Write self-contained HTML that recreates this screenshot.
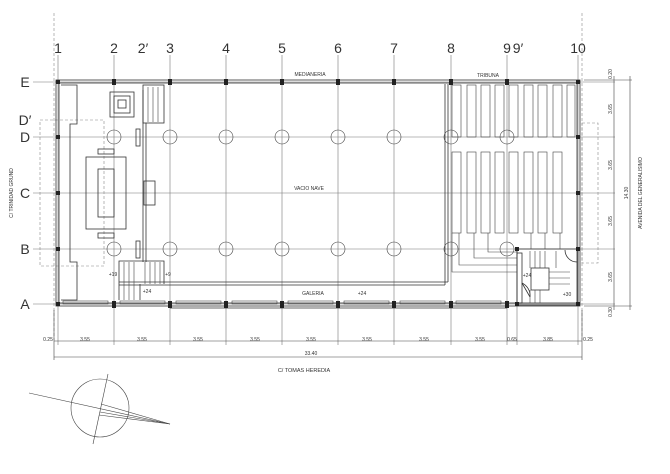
<!DOCTYPE html>
<html><head><meta charset="utf-8"><style>
html,body{margin:0;padding:0;background:#fff;}
svg{display:block;}
text{font-family:"Liberation Sans",sans-serif;fill:#333;}
</style></head><body>
<svg width="670" height="474" viewBox="0 0 670 474" xmlns="http://www.w3.org/2000/svg">
<g stroke="#777" stroke-width="0.6" fill="none">
<!-- grid lines vertical -->
<line x1="58" y1="55" x2="58" y2="345"/>
<line x1="114" y1="55" x2="114" y2="345"/>
<line x1="170" y1="55" x2="170" y2="345"/>
<line x1="226" y1="55" x2="226" y2="345"/>
<line x1="282" y1="55" x2="282" y2="345"/>
<line x1="338" y1="55" x2="338" y2="345"/>
<line x1="394" y1="55" x2="394" y2="345"/>
<line x1="451" y1="55" x2="451" y2="345"/>
<line x1="507" y1="55" x2="507" y2="345"/>
<line x1="517" y1="250" x2="517" y2="345"/>
<line x1="578" y1="55" x2="578" y2="345"/>
<!-- horizontal grid -->
<line x1="33" y1="82" x2="615" y2="82"/>
<line x1="33" y1="137" x2="615" y2="137"/>
<line x1="33" y1="193" x2="615" y2="193"/>
<line x1="33" y1="249" x2="615" y2="249"/>
<line x1="33" y1="304" x2="615" y2="304"/>
</g>
<g stroke="#888" stroke-width="0.6" fill="none" stroke-dasharray="3,2">
<line x1="54" y1="13" x2="54" y2="340"/>
<line x1="582" y1="13" x2="582" y2="340"/>
<rect x="40" y="120" width="64" height="146"/>
<rect x="582" y="123" width="16" height="140"/>
</g>
<!-- walls -->
<g stroke="#333" stroke-width="0.8" fill="none">
<rect x="56" y="80" width="524" height="226"/>
<rect x="59" y="83" width="518" height="220"/>
<line x1="445" y1="84" x2="445" y2="285"/>
<line x1="448" y1="84" x2="448" y2="282"/>
<line x1="119" y1="285" x2="445" y2="285"/>
<line x1="119" y1="282" x2="448" y2="282"/>
<line x1="170" y1="308" x2="507" y2="308"/>
<!-- left bench -->
<path d="M61 85 H77 V124 H70 V262 H77 V300 H61"/>
<!-- square -->
<rect x="110" y="92" width="24" height="25"/>
<rect x="114" y="96" width="16" height="17"/>
<rect x="118" y="100" width="8" height="8"/>
<!-- steps top 2' -->
<rect x="143" y="85" width="21" height="38"/>
<line x1="143" y1="90" x2="143" y2="262"/>
<line x1="146" y1="123" x2="146" y2="262"/>
<rect x="136" y="129" width="4" height="17"/>
<rect x="136" y="241" width="4" height="17"/>
<rect x="86" y="157" width="40" height="72"/>
<rect x="98" y="169" width="16" height="48"/>
<rect x="98" y="149" width="16" height="5"/>
<rect x="98" y="233" width="16" height="5"/>
<rect x="144" y="181" width="11" height="24"/>
<!-- stairs bottom left -->
<path d="M119 300 V261 H164 V284"/>
<path d="M140 284 V300"/>
<!-- stair box bottom right -->
<rect x="517" y="249" width="61" height="56"/>
<rect x="517" y="253" width="5" height="50"/>
<rect x="531" y="268" width="18" height="22"/>
<line x1="522" y1="283" x2="530" y2="297"/>
<path d="M565 250 A12 12 0 0 0 577 262"/>
<path d="M522 283 A14 14 0 0 1 530 297"/>
</g>
<g stroke="#444" stroke-width="0.6" fill="none">
<!-- step lines -->
<line x1="148" y1="87" x2="148" y2="122"/><line x1="153" y1="87" x2="153" y2="122"/><line x1="158" y1="87" x2="158" y2="122"/>
<line x1="124" y1="262" x2="124" y2="300"/><line x1="129" y1="262" x2="129" y2="300"/><line x1="134" y1="262" x2="134" y2="300"/>
<line x1="145" y1="262" x2="145" y2="284"/><line x1="150" y1="262" x2="150" y2="284"/><line x1="155" y1="262" x2="155" y2="284"/><line x1="160" y1="262" x2="160" y2="284"/>
<line x1="530" y1="251" x2="530" y2="268"/><line x1="535" y1="251" x2="535" y2="268"/><line x1="540" y1="251" x2="540" y2="268"/><line x1="545" y1="251" x2="545" y2="268"/><line x1="556" y1="251" x2="556" y2="268"/>
<line x1="549" y1="272" x2="570" y2="272"/><line x1="549" y1="278" x2="570" y2="278"/><line x1="549" y1="284" x2="570" y2="284"/>
<line x1="530" y1="290" x2="530" y2="303"/><line x1="535" y1="290" x2="535" y2="303"/><line x1="540" y1="290" x2="540" y2="303"/>
<!-- windows bottom wall -->
<rect x="63" y="301" width="45" height="3"/>
<rect x="120" y="301" width="45" height="3"/>
<rect x="176" y="301" width="45" height="3"/>
<rect x="232" y="301" width="45" height="3"/>
<rect x="288" y="301" width="45" height="3"/>
<rect x="344" y="301" width="45" height="3"/>
<rect x="400" y="301" width="45" height="3"/>
<rect x="456" y="301" width="45" height="3"/>
<!-- benches -->
<g>
<rect x="452" y="85" width="9" height="52"/><rect x="467" y="85" width="9" height="52"/><rect x="481" y="85" width="9" height="52"/><rect x="495" y="85" width="9" height="52"/><rect x="509" y="85" width="9" height="52"/><rect x="524" y="85" width="9" height="52"/><rect x="538" y="85" width="9" height="52"/><rect x="553" y="85" width="9" height="52"/><rect x="567" y="85" width="8" height="52"/>
<rect x="452" y="152" width="9" height="81"/><rect x="467" y="152" width="9" height="81"/><rect x="481" y="152" width="9" height="81"/><rect x="495" y="152" width="9" height="81"/><rect x="509" y="152" width="9" height="81"/><rect x="524" y="152" width="9" height="81"/><rect x="538" y="152" width="9" height="81"/><rect x="553" y="152" width="9" height="81"/>
</g>
<path d="M452 233 V272 H517"/>
<path d="M459 233 V265 H517"/>
<path d="M474 233 V258 H517"/>
<path d="M488 233 V252 H517"/>
<line x1="531" y1="233" x2="531" y2="249"/>
<line x1="545" y1="233" x2="545" y2="249"/>
<line x1="560" y1="233" x2="560" y2="249"/>
<!-- circles -->
<circle cx="114" cy="137" r="7"/><circle cx="170" cy="137" r="7"/><circle cx="226" cy="137" r="7"/><circle cx="282" cy="137" r="7"/><circle cx="338" cy="137" r="7"/><circle cx="394" cy="137" r="7"/><circle cx="451" cy="137" r="7"/><circle cx="507" cy="137" r="7"/>
<circle cx="114" cy="249" r="7"/><circle cx="170" cy="249" r="7"/><circle cx="226" cy="249" r="7"/><circle cx="282" cy="249" r="7"/><circle cx="338" cy="249" r="7"/><circle cx="394" cy="249" r="7"/><circle cx="451" cy="249" r="7"/><circle cx="507" cy="249" r="7"/>
<!-- dimension lines -->
<line x1="54" y1="341" x2="582" y2="341"/>
<line x1="54" y1="357" x2="582" y2="357"/>
<line x1="54" y1="310" x2="54" y2="360"/>
<line x1="582" y1="310" x2="582" y2="360"/>
<line x1="584" y1="80" x2="632" y2="80"/>
<line x1="584" y1="306" x2="632" y2="306"/>
<line x1="614" y1="76" x2="614" y2="310"/>
<line x1="630" y1="76" x2="630" y2="310"/>
<!-- compass -->
<circle cx="100" cy="408" r="29"/>
<line x1="29" y1="393" x2="170" y2="424"/>
<line x1="108" y1="374" x2="93" y2="444"/>
<line x1="101" y1="404" x2="170" y2="424"/>
<line x1="100" y1="412" x2="170" y2="424"/>
<line x1="99" y1="415" x2="170" y2="424"/>
</g>
<!-- column marks -->
<g fill="#222">
<rect x="56" y="80" width="4" height="4"/><rect x="112" y="79" width="4" height="6"/><rect x="168" y="79" width="4" height="6"/><rect x="224" y="79" width="4" height="6"/><rect x="280" y="79" width="4" height="6"/><rect x="336" y="79" width="4" height="6"/><rect x="392" y="79" width="4" height="6"/><rect x="449" y="79" width="4" height="6"/><rect x="505" y="79" width="4" height="6"/><rect x="576" y="80" width="4" height="4"/>
<rect x="112" y="301" width="4" height="7"/><rect x="168" y="301" width="4" height="7"/><rect x="224" y="301" width="4" height="7"/><rect x="280" y="301" width="4" height="7"/><rect x="336" y="301" width="4" height="7"/><rect x="392" y="301" width="4" height="7"/><rect x="449" y="301" width="4" height="7"/><rect x="505" y="301" width="4" height="7"/>
<rect x="56" y="302" width="4" height="4"/><rect x="515" y="302" width="4" height="4"/><rect x="576" y="302" width="4" height="4"/><rect x="515" y="247" width="4" height="4"/>
<rect x="56" y="135" width="4" height="4"/><rect x="56" y="191" width="4" height="4"/><rect x="56" y="247" width="4" height="4"/>
<rect x="576" y="135" width="4" height="4"/><rect x="576" y="191" width="4" height="4"/><rect x="576" y="247" width="4" height="4"/>
</g>
<!-- labels -->
<g font-size="14" text-anchor="middle">
<text x="58" y="53">1</text><text x="114" y="53">2</text><text x="143" y="53">2′</text><text x="170" y="53">3</text><text x="226" y="53">4</text><text x="282" y="53">5</text><text x="338" y="53">6</text><text x="394" y="53">7</text><text x="451" y="53">8</text><text x="507" y="53">9</text><text x="518" y="53">9′</text><text x="578" y="53">10</text>
<text x="25" y="87">E</text><text x="25" y="125">D′</text><text x="25" y="142">D</text><text x="25" y="198">C</text><text x="25" y="254">B</text><text x="25" y="309">A</text>
</g>
<g font-size="5" text-anchor="middle">
<text x="310" y="76">MEDIANERIA</text><text x="488" y="77">TRIBUNA</text>
<text x="309" y="190">VACIO NAVE</text><text x="313" y="295">GALERIA</text>
<text x="362" y="295">+24</text><text x="147" y="293">+24</text><text x="113" y="276">+19</text><text x="168" y="276">+9</text>
<text x="527" y="277">+24</text><text x="567" y="296">+30</text>
<text x="48" y="341">0.25</text><text x="85" y="341">3.55</text><text x="142" y="341">3.55</text><text x="198" y="341">3.55</text><text x="255" y="341">3.55</text><text x="311" y="341">3.55</text><text x="367" y="341">3.55</text><text x="424" y="341">3.55</text><text x="480" y="341">3.55</text><text x="512" y="341">0.65</text><text x="548" y="341">3.85</text><text x="588" y="341">0.25</text>
<text x="311" y="355">33.40</text>
<text x="304" y="372" font-size="5.5">C/ TOMAS HEREDIA</text>
</g>
<g font-size="5" text-anchor="middle">
<text transform="translate(612,74) rotate(-90)">0.20</text>
<text transform="translate(612,109) rotate(-90)">3.65</text>
<text transform="translate(612,165) rotate(-90)">3.65</text>
<text transform="translate(612,221) rotate(-90)">3.65</text>
<text transform="translate(612,277) rotate(-90)">3.65</text>
<text transform="translate(612,312) rotate(-90)">0.30</text>
<text transform="translate(628,193) rotate(-90)">14.30</text>
<text transform="translate(642,193) rotate(-90)">AVENIDA DEL GENERALISIMO</text>
<text transform="translate(13,193) rotate(-90)">C/ TRINIDAD GRUND</text>
</g>
</svg>
</body></html>
